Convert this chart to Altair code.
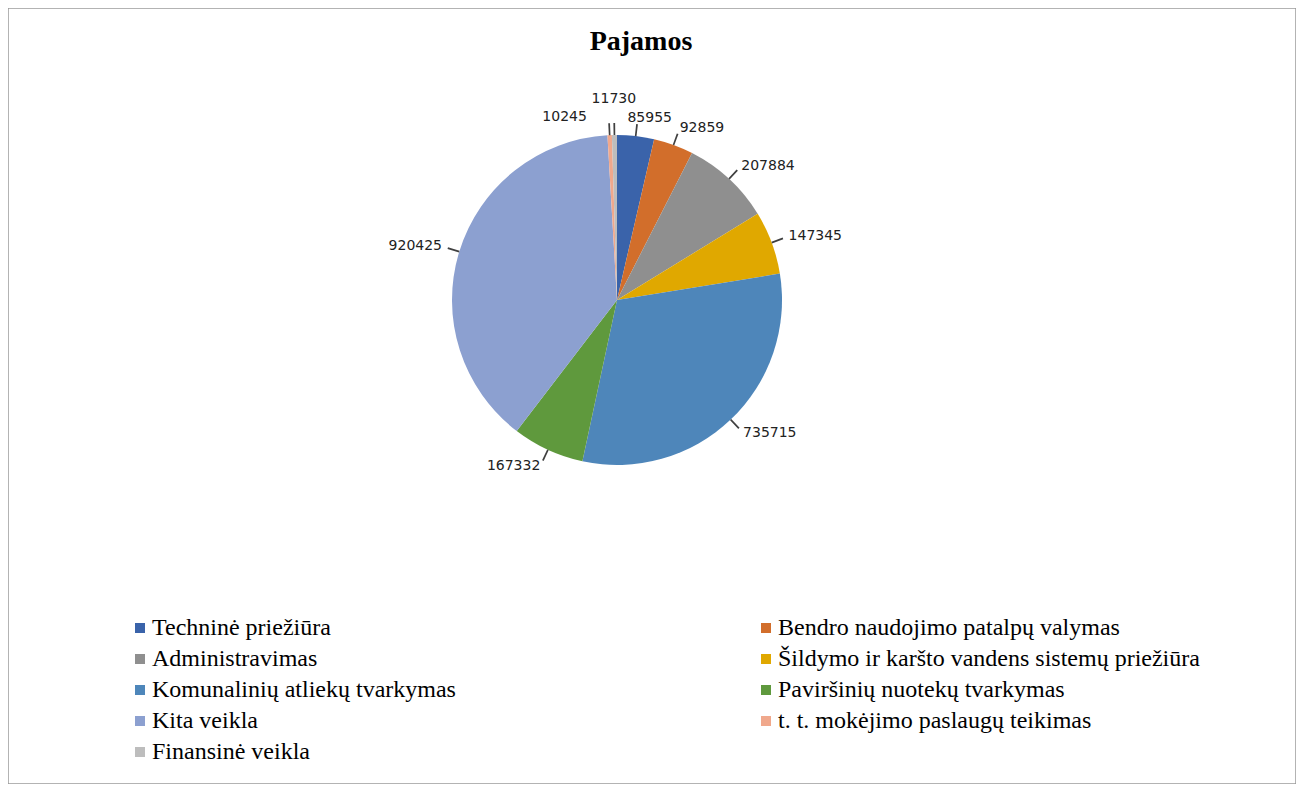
import altair as alt
import pandas as pd

categories = [
    "Techninė priežiūra",
    "Bendro naudojimo patalpų valymas",
    "Administravimas",
    "Šildymo ir karšto vandens sistemų priežiūra",
    "Komunalinių atliekų tvarkymas",
    "Paviršinių nuotekų tvarkymas",
    "Kita veikla",
    "t. t. mokėjimo paslaugų teikimas",
    "Finansinė veikla",
]
values = [85955, 92859, 207884, 147345, 735715, 167332, 920425, 10245, 11730]
colors = ["#3A63AA", "#D26E2B", "#8F8F8F", "#E0A800", "#4E86BA",
          "#5F993D", "#8CA0D0", "#F0A88C", "#BDBDBD"]

df = pd.DataFrame({"category": categories, "value": values,
                   "idx": list(range(len(categories)))})

CX, CY, R = 609, 292, 165
LABEL_FONT = "DejaVu Sans"

base = (
    alt.Chart(df)
    .transform_joinaggregate(total="sum(value)")
    .transform_window(cum="sum(value)", sort=[alt.SortField("idx")])
    .transform_calculate(mid="(datum.cum - datum.value / 2) / datum.total * 2 * PI")
)

color = alt.Color(
    "category:N",
    scale=alt.Scale(domain=categories, range=colors),
    legend=alt.Legend(
        title=None, orient="none", legendX=120, legendY=608, columns=2,
        direction="horizontal", columnPadding=298, rowPadding=7,
        symbolType="square", symbolSize=100, symbolStrokeWidth=0,
        labelFont="Liberation Serif", labelFontSize=24, labelColor="black",
        labelLimit=0, labelOffset=0,
    ),
)

pie = base.mark_arc(outerRadius=R).encode(
    theta=alt.Theta("value:Q", stack=True),
    color=color,
    order=alt.Order("idx:Q"),
    x=alt.value(CX),
    y=alt.value(CY),
)

ticks = (
    base.transform_calculate(t1="datum.mid - 0.005", t2="datum.mid + 0.005")
    .mark_arc(innerRadius=R, outerRadius=R + 12, color="#404040")
    .encode(
        theta=alt.Theta("t1:Q", scale=None),
        theta2="t2:Q",
        x=alt.value(CX),
        y=alt.value(CY),
    )
)

def labels(filter_expr, align, radius, dx=0):
    return (
        base.transform_filter(filter_expr)
        .mark_text(align=align, baseline="middle", radius=radius, dx=dx,
                   font=LABEL_FONT, fontSize=14, color="#222222")
        .encode(
            theta=alt.Theta("mid:Q", scale=None),
            text=alt.Text("value:Q", format="d"),
            x=alt.value(CX),
            y=alt.value(CY),
        )
    )

lab_right = labels("datum.mid < PI && datum.idx != 0", "left", R + 18)
lab_left = labels("datum.mid >= PI && datum.idx < 7", "right", R + 18)
lab_tech = labels("datum.idx == 0", "center", R + 18, dx=12)
lab_tt = labels("datum.idx == 7", "right", R + 18, dx=-22)
lab_fin = labels("datum.idx == 8", "center", R + 36)

chart = (
    alt.layer(pie, ticks, lab_right, lab_left, lab_tech, lab_tt, lab_fin)
    .properties(
        width=1288,
        height=776,
        padding=0,
        autosize=alt.AutoSizeParams(type="fit", contains="padding"),
        title=alt.TitleParams(
            "Pajamos", font="Liberation Serif", fontSize=28, fontWeight="bold",
            color="black", anchor="middle", offset=-48, dx=-11,
        ),
    )
    .configure_view(stroke="#9A9A9A", strokeWidth=1.5)
)

chart.save("out.html", embed_options={"renderer": "svg", "actions": False})
